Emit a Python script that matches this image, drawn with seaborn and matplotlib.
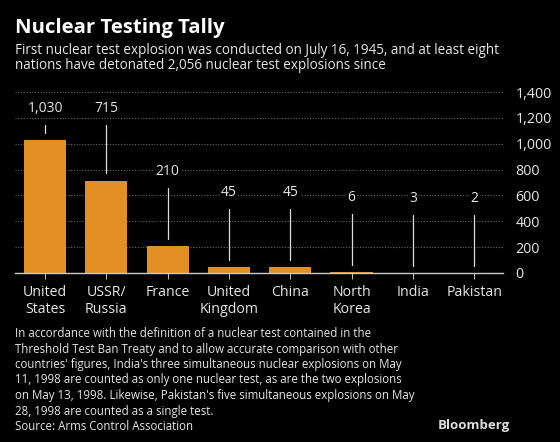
import matplotlib
matplotlib.use("Agg")
import matplotlib.pyplot as plt
import matplotlib.ticker as mticker
import pandas as pd
import seaborn as sns

# data
countries = ["United\nStates", "USSR/\nRussia", "France", "United\nKingdom",
             "China", "North\nKorea", "India", "Pakistan"]
tests = [1030, 715, 210, 45, 45, 6, 3, 2]
y_ticks = [0, 200, 400, 600, 800, 1000, 1200, 1400]

TITLE = "Nuclear Testing Tally"
SUBTITLE = ("First nuclear test explosion was conducted on July 16, 1945, and at least eight\n"
            "nations have detonated 2,056 nuclear test explosions since")
NOTE = ("In accordance with the definition of a nuclear test contained in the\n"
        "Threshold Test Ban Treaty and to allow accurate comparison with other\n"
        "countries' figures, India's three simultaneous nuclear explosions on May\n"
        "11, 1998 are counted as only one nuclear test, as are the two explosions\n"
        "on May 13, 1998. Likewise, Pakistan's five simultaneous explosions on May\n"
        "28, 1998 are counted as a single test.\n"
        "Source: Arms Control Association")

BG = "#000000"
BAR = "#E28F24"
TXT = "#E6E6E6"
GRID = "#6a6a6a"

sns.set_theme(style="dark")
plt.rcParams["font.family"] = ["Open Sans", "DejaVu Sans"]

df = pd.DataFrame({"country": countries, "tests": tests})

fig = plt.figure(figsize=(5.6, 4.42), dpi=100, facecolor=BG)
ax = fig.add_axes([15 / 560, 1 - 273 / 442, 488 / 560, 181 / 442])
ax.set_facecolor(BG)

sns.barplot(data=df, x="country", y="tests", color=BAR, width=0.69,
            saturation=1, linewidth=0, edgecolor="none", ax=ax, zorder=3)

ax.set_ylim(0, 1400)
ax.set_xlim(-0.49, 7.47)
ax.set_yticks(y_ticks)
ax.yaxis.set_major_formatter(mticker.StrMethodFormatter("{x:,.0f}"))
ax.yaxis.tick_right()
ax.tick_params(axis="y", length=0, pad=9, labelsize=10.3, labelcolor=TXT)
ax.tick_params(axis="x", length=4, width=0.8, color="#bbbbbb", pad=5,
               labelsize=10.2, labelcolor=TXT, direction="out", bottom=True)
for lbl in ax.get_xticklabels():
    lbl.set_linespacing(1.15)
ax.set_xlabel("")
ax.set_ylabel("")
ax.grid(axis="y", color=GRID, linestyle=(0, (1, 1.5)), linewidth=0.8, zorder=0)
ax.grid(axis="x", visible=False)
for side in ["top", "right", "left"]:
    ax.spines[side].set_visible(False)
ax.spines["bottom"].set_color("#cccccc")
ax.spines["bottom"].set_linewidth(1)
ax.spines["bottom"].set_zorder(4)

# value labels with leader lines
for i, v in enumerate(tests):
    label_y = min(v + 575, 1270)
    ax.text(i, label_y, f"{v:,}", ha="center", va="center", fontsize=10,
            color=TXT, zorder=5,
            bbox=dict(facecolor=BG, edgecolor="none", pad=1.0))
    ax.plot([i, i], [v + 55, label_y - 128], color="#dddddd", lw=0.9, zorder=4)

fig.text(15 / 560, 1 - 28 / 442, TITLE, fontsize=14.7, fontweight="bold",
         color="white", va="center", ha="left")
fig.text(15 / 560, 1 - 43 / 442, SUBTITLE, fontsize=9.75, color=TXT,
         va="top", ha="left", linespacing=1.0)
fig.text(15 / 560, 1 - 327 / 442, NOTE, fontsize=8.3, color=TXT,
         va="top", ha="left", linespacing=1.25)
fig.text(510 / 560, 1 - 425 / 442, "Bloomberg", fontsize=9.5, fontweight="bold",
         color="#dddddd", va="center", ha="right")

fig.savefig("out.png", dpi=100, facecolor=BG)
